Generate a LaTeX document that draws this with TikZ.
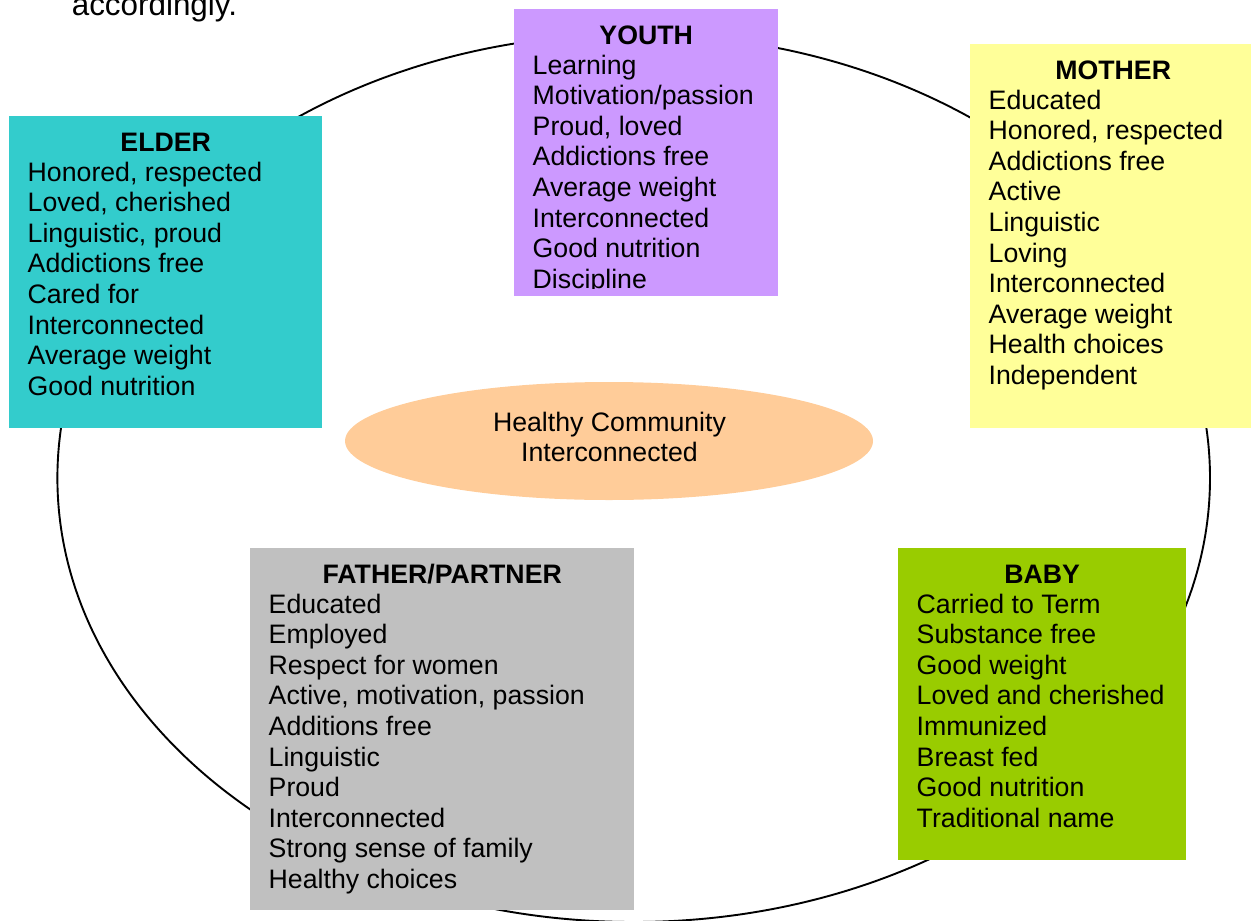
\documentclass[tikz,border=0pt]{standalone}
\usepackage{fontspec}
\setmainfont{Liberation Sans}
\usetikzlibrary{shapes.geometric}

\definecolor{youthfill}{HTML}{CC99FF}
\definecolor{elderfill}{HTML}{33CCCC}
\definecolor{motherfill}{HTML}{FFFF99}
\definecolor{fatherfill}{HTML}{C0C0C0}
\definecolor{babyfill}{HTML}{99CC00}
\definecolor{hubfill}{HTML}{FFCC99}

\tikzset{
  panel/.style={rectangle, draw=none, inner sep=0pt, anchor=north west},
  paneltitle/.style={font=\fontsize{26.7}{30.6}\selectfont\bfseries, inner sep=0pt, anchor=base},
  panelitem/.style={font=\fontsize{26.7}{30.6}\selectfont, inner sep=0pt, anchor=base west},
  ring/.style={draw=black, line width=1.9pt},
  hub/.style={ellipse, fill=hubfill, draw=none, inner sep=0pt},
  hubtext/.style={font=\fontsize{26.7}{30.6}\selectfont, inner sep=0pt, anchor=base},
}

% #1 name, #2 left, #3 top, #4 width, #5 height, #6 fill, #7 title, #8 list of lines
\newcommand\familypanel[8]{%
  \node[panel, fill=#6, minimum width=#4pt, minimum height=#5pt] (#1) at (#2,-#3) {};
  \begin{scope}
    \clip (#1.north west) rectangle ([yshift=7.5pt]#1.south east);
    \node[paneltitle] (#1-title) at ([yshift=-35.5pt]#1.north) {#7};
    \foreach \itemtext [count=\i] in {#8}
      \node[panelitem] (#1-\i) at ([xshift=18.5pt, yshift={-65pt-(\i-1)*30.6pt}]#1.north west) {\itemtext};
  \end{scope}}

\begin{document}
\begin{tikzpicture}[x=1pt, y=1pt]
  \clip (0,0) rectangle (1251,-921);

  % tail of the preceding paragraph
  \node[font=\fontsize{31.4}{36}\selectfont, inner sep=0pt, anchor=base west] (prevline) at (71.6,-15.5) {accordingly.};

  % the family circle
  \draw[ring] (633.7,-478) ellipse [x radius=576.3pt, y radius=444pt];

  % community at the centre
  \node[hub, minimum width=528pt, minimum height=118pt] (hub) at (609,-441) {};
  \node[hubtext] (hub-1) at (609.5,-431) {Healthy Community};
  \node[hubtext] (hub-2) at (609.5,-461) {Interconnected};

  \familypanel{youth}{514}{9}{264}{287}{youthfill}{YOUTH}%
    {Learning, Motivation/passion, {Proud, loved}, Addictions free, Average weight,
     Interconnected, Good nutrition, Discipline}

  \familypanel{elder}{9}{116}{313}{312}{elderfill}{ELDER}%
    {{Honored, respected}, {Loved, cherished}, {Linguistic, proud}, Addictions free,
     Cared for, Interconnected, Average weight, Good nutrition}

  \familypanel{mother}{970}{44}{286}{384}{motherfill}{MOTHER}%
    {Educated, {Honored, respected}, Addictions free, Active, Linguistic, Loving,
     Interconnected, Average weight, Health choices, Independent}

  \familypanel{father}{250}{548}{384}{362}{fatherfill}{FATHER/PARTNER}%
    {Educated, Employed, Respect for women, {Active, motivation, passion}, Additions free,
     Linguistic, Proud, Interconnected, Strong sense of family, Healthy choices}

  \familypanel{baby}{898}{548}{288}{312}{babyfill}{BABY}%
    {Carried to Term, Substance free, Good weight, Loved and cherished, Immunized,
     Breast fed, Good nutrition, Traditional name}
\end{tikzpicture}
\end{document}
